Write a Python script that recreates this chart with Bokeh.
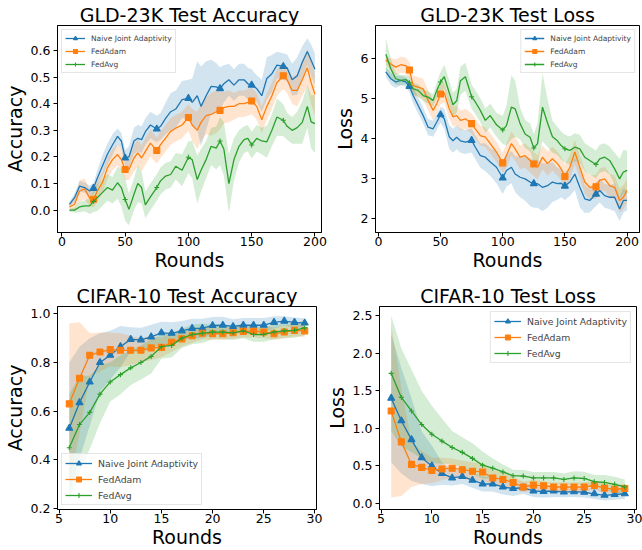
from bokeh.plotting import figure
from bokeh.layouts import column, row
from bokeh.models import Range1d, FixedTicker, NumeralTickFormatter, Legend, LegendItem
from bokeh.embed import file_html
from bokeh.resources import INLINE

FONT = "DejaVu Sans"
BLUE, ORANGE, GREEN = "#1f77b4", "#ff7f0e", "#2ca02c"
SERIES = ["Naive Joint Adaptivity", "FedAdam", "FedAvg"]

# ---------------- GLD-23K (rounds) ----------------
gld_rounds = [6, 10, 14, 18, 22, 25, 28, 32, 36, 40, 44, 47, 50, 53, 57, 60, 63, 66, 70, 75,
              78, 82, 86, 90, 95, 100, 103, 107, 110, 114, 118, 122, 125, 128, 132, 136, 140,
              144, 147, 150, 154, 158, 162, 166, 170, 175, 178, 182, 186, 190, 194, 197, 200]
gld_marker_rounds = [25, 50, 75, 100, 125, 150, 175]

gld_acc_naive = [0.022, 0.047, 0.09, 0.085, 0.072, 0.082, 0.12, 0.165, 0.21, 0.245, 0.277, 0.26,
                 0.196, 0.20, 0.26, 0.27, 0.265, 0.295, 0.32, 0.305, 0.315, 0.345, 0.37, 0.38,
                 0.415, 0.42, 0.405, 0.43, 0.39, 0.43, 0.465, 0.463, 0.457, 0.475, 0.49, 0.47,
                 0.49, 0.49, 0.475, 0.47, 0.457, 0.43, 0.495, 0.513, 0.545, 0.54, 0.535, 0.49,
                 0.505, 0.556, 0.596, 0.563, 0.53]
gld_acc_naive_sd = [0.01, 0.015, 0.02, 0.02, 0.02, 0.02, 0.03, 0.04, 0.04, 0.04, 0.03, 0.03, 0.03,
                    0.04, 0.05, 0.05, 0.05, 0.05, 0.05, 0.05, 0.05, 0.06, 0.07, 0.07, 0.07, 0.07,
                    0.09, 0.13, 0.15, 0.13, 0.10, 0.09, 0.08, 0.07, 0.06, 0.06, 0.06, 0.06, 0.06,
                    0.06, 0.05, 0.06, 0.08, 0.07, 0.05, 0.05, 0.05, 0.06, 0.07, 0.06, 0.05, 0.06, 0.06]
gld_acc_adam = [0.012, 0.022, 0.072, 0.08, 0.045, 0.041, 0.072, 0.103, 0.159, 0.19, 0.209, 0.19,
                0.153, 0.153, 0.196, 0.215, 0.196, 0.221, 0.252, 0.224, 0.246, 0.271, 0.296, 0.308,
                0.32, 0.348, 0.32, 0.30, 0.33, 0.355, 0.36, 0.37, 0.375, 0.385, 0.39, 0.39, 0.40,
                0.40, 0.405, 0.41, 0.39, 0.34, 0.39, 0.43, 0.48, 0.505, 0.49, 0.45, 0.45, 0.49,
                0.535, 0.48, 0.435]
gld_acc_adam_sd = [0.01, 0.02, 0.04, 0.04, 0.03, 0.03, 0.04, 0.04, 0.04, 0.04, 0.04, 0.04, 0.04,
                   0.04, 0.05, 0.05, 0.05, 0.05, 0.05, 0.05, 0.05, 0.05, 0.05, 0.05, 0.05, 0.05,
                   0.06, 0.07, 0.07, 0.07, 0.08, 0.08, 0.07, 0.06, 0.06, 0.05, 0.05, 0.05, 0.05,
                   0.05, 0.05, 0.05, 0.05, 0.05, 0.05, 0.05, 0.05, 0.05, 0.06, 0.06, 0.07, 0.08, 0.08]
gld_acc_avg = [0.0, 0.0, 0.012, 0.016, 0.016, 0.033, 0.047, 0.066, 0.085, 0.075, 0.103, 0.085,
               0.04, 0.003, 0.06, 0.10, 0.085, 0.02, 0.05, 0.085, 0.11, 0.128, 0.134, 0.165, 0.15,
               0.199, 0.19, 0.115, 0.15, 0.19, 0.24, 0.233, 0.26, 0.23, 0.10, 0.19, 0.24, 0.265,
               0.27, 0.245, 0.27, 0.26, 0.257, 0.30, 0.35, 0.338, 0.315, 0.30, 0.31, 0.33, 0.39,
               0.332, 0.325]
gld_acc_avg_sd = [0.005, 0.01, 0.02, 0.02, 0.03, 0.04, 0.05, 0.05, 0.05, 0.05, 0.06, 0.07, 0.08,
                  0.06, 0.06, 0.07, 0.06, 0.05, 0.05, 0.05, 0.05, 0.05, 0.05, 0.05, 0.06, 0.06,
                  0.07, 0.09, 0.08, 0.07, 0.07, 0.08, 0.09, 0.10, 0.11, 0.08, 0.06, 0.05, 0.05,
                  0.05, 0.05, 0.05, 0.06, 0.06, 0.07, 0.06, 0.05, 0.05, 0.06, 0.08, 0.08, 0.10, 0.11]

gld_loss_naive = [5.67, 5.5, 5.42, 5.46, 5.42, 5.31, 5.08, 4.83, 4.58, 4.29, 4.25, 4.42, 4.6, 4.5,
                  4.05, 3.95, 4.04, 3.95, 3.92, 3.96, 3.79, 3.58, 3.54, 3.42, 3.29, 3.02, 3.21,
                  3.29, 3.12, 3.04, 3.0, 2.92, 2.88, 2.88, 2.79, 2.83, 2.92, 2.88, 2.89, 2.82, 2.92,
                  3.12, 2.79, 2.5, 2.46, 2.62, 2.71, 2.58, 2.54, 2.54, 2.25, 2.46, 2.46]
gld_loss_naive_sd = [0.12, 0.15, 0.15, 0.12, 0.12, 0.15, 0.2, 0.2, 0.2, 0.2, 0.2, 0.2, 0.2, 0.25,
                     0.3, 0.3, 0.3, 0.3, 0.3, 0.3, 0.3, 0.3, 0.35, 0.35, 0.4, 0.4, 0.4, 0.4, 0.45,
                     0.5, 0.55, 0.6, 0.6, 0.6, 0.6, 0.55, 0.5, 0.4, 0.35, 0.35, 0.35, 0.4, 0.5,
                     0.35, 0.3, 0.3, 0.3, 0.3, 0.3, 0.35, 0.3, 0.3, 0.25]
gld_loss_adam = [5.97, 5.87, 5.79, 5.85, 5.83, 5.72, 5.33, 5.29, 5.25, 4.96, 4.71, 4.88, 5.12,
                 5.15, 4.75, 4.55, 4.58, 4.46, 4.5, 4.38, 4.25, 4.08, 4.04, 3.88, 3.67, 3.4, 3.58,
                 3.88, 3.75, 3.54, 3.58, 3.46, 3.37, 3.29, 3.54, 3.38, 3.5, 3.38, 3.25, 3.06, 3.29,
                 3.67, 3.29, 2.92, 2.79, 2.8, 2.96, 3.0, 2.83, 2.79, 2.46, 2.54, 2.71]
gld_loss_adam_sd = [0.1, 0.15, 0.2, 0.2, 0.2, 0.2, 0.25, 0.25, 0.25, 0.25, 0.25, 0.25, 0.25, 0.25,
                    0.25, 0.25, 0.25, 0.25, 0.25, 0.25, 0.25, 0.25, 0.25, 0.25, 0.25, 0.25, 0.3,
                    0.3, 0.3, 0.3, 0.3, 0.3, 0.3, 0.3, 0.3, 0.3, 0.3, 0.3, 0.3, 0.3, 0.3, 0.3, 0.3,
                    0.3, 0.3, 0.3, 0.3, 0.3, 0.3, 0.3, 0.3, 0.3, 0.3]
gld_loss_avg = [6.11, 5.75, 5.5, 5.46, 5.48, 5.4, 5.25, 5.21, 5.08, 5.04, 4.96, 5.21, 5.42, 5.55,
                5.15, 4.85, 4.95, 5.45, 5.55, 5.05, 4.92, 4.71, 4.46, 4.58, 4.35, 4.22, 4.33, 4.79,
                4.75, 4.38, 4.12, 4.04, 3.77, 3.88, 4.79, 4.4, 4.05, 3.95, 3.83, 3.75, 3.71, 3.79,
                3.75, 3.54, 3.46, 3.36, 3.5, 3.54, 3.46, 3.25, 3.0, 3.17, 3.21]
gld_loss_avg_sd = [0.4, 0.25, 0.15, 0.12, 0.12, 0.15, 0.15, 0.15, 0.15, 0.15, 0.15, 0.2, 0.25, 0.3,
                   0.3, 0.3, 0.3, 0.35, 0.35, 0.3, 0.3, 0.3, 0.3, 0.3, 0.3, 0.35, 0.5, 0.8, 0.7,
                   0.4, 0.35, 0.35, 0.35, 0.5, 0.85, 0.6, 0.4, 0.35, 0.35, 0.35, 0.35, 0.35, 0.35,
                   0.35, 0.35, 0.35, 0.35, 0.35, 0.35, 0.4, 0.5, 0.55, 0.5]

# ---------------- CIFAR-10 (rounds 6..29) ----------------
cifar_rounds = [6, 7, 8, 9, 10, 11, 12, 13, 14, 15, 16, 17, 18, 19, 20, 21, 22, 23, 24, 25, 26, 27, 28, 29]

cifar_acc_naive = [0.53, 0.635, 0.72, 0.80, 0.83, 0.865, 0.895, 0.893, 0.905, 0.922, 0.92, 0.93,
                   0.94, 0.94, 0.952, 0.953, 0.948, 0.953, 0.953, 0.953, 0.965, 0.97, 0.965, 0.962]
cifar_acc_naive_sd = [0.27, 0.23, 0.18, 0.12, 0.10, 0.085, 0.05, 0.05, 0.05, 0.045, 0.045, 0.04,
                      0.04, 0.04, 0.035, 0.035, 0.03, 0.03, 0.03, 0.03, 0.025, 0.02, 0.02, 0.02]
cifar_acc_adam = [0.63, 0.735, 0.83, 0.843, 0.853, 0.85, 0.85, 0.85, 0.86, 0.862, 0.883, 0.897,
                  0.91, 0.92, 0.918, 0.918, 0.922, 0.928, 0.928, 0.925, 0.918, 0.925, 0.932, 0.93]
cifar_acc_adam_sd = [0.33, 0.23, 0.09, 0.08, 0.07, 0.07, 0.06, 0.05, 0.05, 0.04, 0.04, 0.03, 0.03,
                     0.025, 0.025, 0.025, 0.025, 0.025, 0.025, 0.025, 0.025, 0.025, 0.025, 0.025]
cifar_acc_avg = [0.45, 0.545, 0.595, 0.67, 0.72, 0.75, 0.778, 0.80, 0.825, 0.865, 0.87, 0.90,
                 0.915, 0.92, 0.925, 0.925, 0.922, 0.93, 0.915, 0.915, 0.925, 0.93, 0.932, 0.942]
cifar_acc_avg_sd = [0.22, 0.20, 0.15, 0.12, 0.08, 0.08, 0.07, 0.07, 0.07, 0.05, 0.05, 0.04, 0.04,
                    0.04, 0.03, 0.03, 0.03, 0.03, 0.03, 0.03, 0.03, 0.03, 0.03, 0.03]

cifar_loss_naive = [1.40, 1.10, 0.85, 0.61, 0.50, 0.40, 0.34, 0.36, 0.31, 0.26, 0.26, 0.22, 0.20,
                    0.21, 0.167, 0.162, 0.167, 0.153, 0.158, 0.15, 0.13, 0.11, 0.12, 0.13]
cifar_loss_naive_sd = [0.85, 0.70, 0.55, 0.35, 0.27, 0.15, 0.10, 0.10, 0.10, 0.10, 0.10, 0.10,
                       0.10, 0.08, 0.08, 0.08, 0.08, 0.07, 0.07, 0.07, 0.07, 0.07, 0.07, 0.07]
cifar_loss_adam = [1.23, 0.82, 0.52, 0.48, 0.44, 0.46, 0.47, 0.45, 0.43, 0.42, 0.34, 0.32, 0.28,
                   0.22, 0.245, 0.237, 0.22, 0.22, 0.22, 0.22, 0.24, 0.205, 0.19, 0.20]
cifar_loss_adam_sd = [1.15, 0.72, 0.30, 0.22, 0.17, 0.15, 0.13, 0.12, 0.12, 0.12, 0.10, 0.10,
                      0.08, 0.07, 0.07, 0.06, 0.06, 0.06, 0.06, 0.06, 0.06, 0.06, 0.06, 0.06]
cifar_loss_avg = [1.73, 1.41, 1.23, 1.05, 0.92, 0.83, 0.745, 0.68, 0.60, 0.51, 0.47, 0.42, 0.37,
                  0.365, 0.34, 0.34, 0.34, 0.32, 0.34, 0.333, 0.29, 0.28, 0.255, 0.22]
cifar_loss_avg_sd = [0.77, 0.65, 0.55, 0.45, 0.38, 0.30, 0.22, 0.20, 0.20, 0.18, 0.13, 0.10,
                     0.08, 0.08, 0.08, 0.08, 0.08, 0.08, 0.09, 0.09, 0.09, 0.10, 0.10, 0.10]

gld_x_ticks = [0, 50, 100, 150, 200]
cifar_x_ticks = [5, 10, 15, 20, 25, 30]
gld_acc_ticks = [0.0, 0.1, 0.2, 0.3, 0.4, 0.5, 0.6]
gld_loss_ticks = [2, 3, 4, 5, 6]
cifar_acc_ticks = [0.2, 0.4, 0.6, 0.8, 1.0]
cifar_loss_ticks = [0.0, 0.5, 1.0, 1.5, 2.0, 2.5]


def make_fig(title, xr, yr, w, h, bl, br, bt, bb, xt, yt, yfmt, ylabel):
    p = figure(width=w, height=h, min_border_left=bl, min_border_right=br,
               min_border_top=bt, min_border_bottom=bb,
               x_range=Range1d(*xr), y_range=Range1d(*yr),
               output_backend="svg", toolbar_location=None, title=title)
    p.title.text_font = FONT
    p.title.text_font_size = "19px"
    p.title.text_font_style = "normal"
    p.title.text_color = "black"
    p.title.align = "center"
    p.title.standoff = 0
    p.xgrid.visible = False
    p.ygrid.visible = False
    p.outline_line_color = "black"
    p.outline_line_alpha = 1
    p.outline_line_width = 1
    for ax in (p.xaxis[0], p.yaxis[0]):
        ax.axis_line_color = "black"
        ax.major_tick_line_color = "black"
        ax.major_tick_out = 4
        ax.major_tick_in = 0
        ax.minor_tick_out = 0
        ax.minor_tick_in = 0
        ax.major_label_text_font = FONT
        ax.major_label_text_font_size = "12.5px"
        ax.major_label_text_color = "black"
        ax.axis_label_text_font = FONT
        ax.axis_label_text_font_size = "19px"
        ax.axis_label_text_font_style = "normal"
        ax.axis_label_text_color = "black"
    p.xaxis.ticker = FixedTicker(ticks=xt)
    p.yaxis.ticker = FixedTicker(ticks=yt)
    p.yaxis.formatter = NumeralTickFormatter(format=yfmt)
    p.xaxis.axis_label = "Rounds"
    p.yaxis.axis_label = ylabel
    p.xaxis.major_label_standoff = 0
    p.xaxis.axis_label_standoff = 0
    p.yaxis.major_label_standoff = 3
    p.yaxis.axis_label_standoff = 2
    return p


def add_series(p, xs, means, sds, marker_rounds, legend_cfg):
    colors = [BLUE, ORANGE, GREEN]
    markers = ["triangle", "square", "cross"]
    sizes = [7, 6, 5]
    for m, s, c in zip(means, sds, colors):
        lo = [a - b for a, b in zip(m, s)]
        hi = [a + b for a, b in zip(m, s)]
        p.varea(x=xs, y1=lo, y2=hi, fill_color=c, fill_alpha=0.2)
    items = []
    for m, c, mk, sz, name in zip(means, colors, markers, sizes, SERIES):
        lr = p.line(xs, m, line_color=c, line_width=1.3)
        idx = [xs.index(r) for r in marker_rounds]
        sr = p.scatter([xs[i] for i in idx], [m[i] for i in idx], marker=mk, size=sz,
                       fill_color=c, line_color=c, line_width=1.1)
        items.append(LegendItem(label=name, renderers=[lr, sr]))
    leg = Legend(items=items, location=legend_cfg["loc"], margin=legend_cfg["margin"],
                 label_text_font=FONT, label_text_font_size=legend_cfg["fs"],
                 glyph_width=legend_cfg["gw"], glyph_height=legend_cfg["gh"],
                 label_height=legend_cfg["gh"], label_standoff=legend_cfg["ls"],
                 spacing=legend_cfg["sp"], padding=legend_cfg["pad"],
                 border_line_color="#cccccc", border_line_width=1,
                 background_fill_color="white", background_fill_alpha=0.8)
    p.add_layout(leg)


top_leg = dict(fs="7.5px", gw=20, gh=10, ls=6, sp=3, pad=3)
bot_leg = dict(fs="9.3px", gw=27, gh=12, ls=6, sp=4, pad=3)

p1 = make_fig("GLD-23K Test Accuracy", (-3.45, 205.2), (-0.084, 0.694), 330, 275, 55, 9, 25, 43,
              gld_x_ticks, gld_acc_ticks, "0.0", "Accuracy")
add_series(p1, gld_rounds, [gld_acc_naive, gld_acc_adam, gld_acc_avg],
           [gld_acc_naive_sd, gld_acc_adam_sd, gld_acc_avg_sd], gld_marker_rounds,
           dict(top_leg, loc="top_left", margin=4))

p2 = make_fig("GLD-23K Test Loss", (-2.3, 210.0), (1.66, 6.83), 312, 275, 40, 3, 25, 43,
              gld_x_ticks, gld_loss_ticks, "0", "Loss")
add_series(p2, gld_rounds, [gld_loss_naive, gld_loss_adam, gld_loss_avg],
           [gld_loss_naive_sd, gld_loss_adam_sd, gld_loss_avg_sd], gld_marker_rounds,
           dict(top_leg, loc="top_right", margin=4))

p3 = make_fig("CIFAR-10 Test Accuracy", (4.85, 30.15), (0.196, 1.03), 322, 275, 55, 6, 31, 40,
              cifar_x_ticks, cifar_acc_ticks, "0.0", "Accuracy")
add_series(p3, cifar_rounds, [cifar_acc_naive, cifar_acc_adam, cifar_acc_avg],
           [cifar_acc_naive_sd, cifar_acc_adam_sd, cifar_acc_avg_sd], cifar_rounds,
           dict(bot_leg, loc="bottom_left", margin=4))

p4 = make_fig("CIFAR-10 Test Loss", (4.85, 30.15), (-0.079, 2.618), 320, 275, 53, 6, 31, 40,
              cifar_x_ticks, cifar_loss_ticks, "0.0", "Loss")
add_series(p4, cifar_rounds, [cifar_loss_naive, cifar_loss_adam, cifar_loss_avg],
           [cifar_loss_naive_sd, cifar_loss_adam_sd, cifar_loss_avg_sd], cifar_rounds,
           dict(bot_leg, loc="top_right", margin=5))

layout = column(row(p1, p2), row(p3, p4))
open("out.html", "w").write(file_html(layout, INLINE))
